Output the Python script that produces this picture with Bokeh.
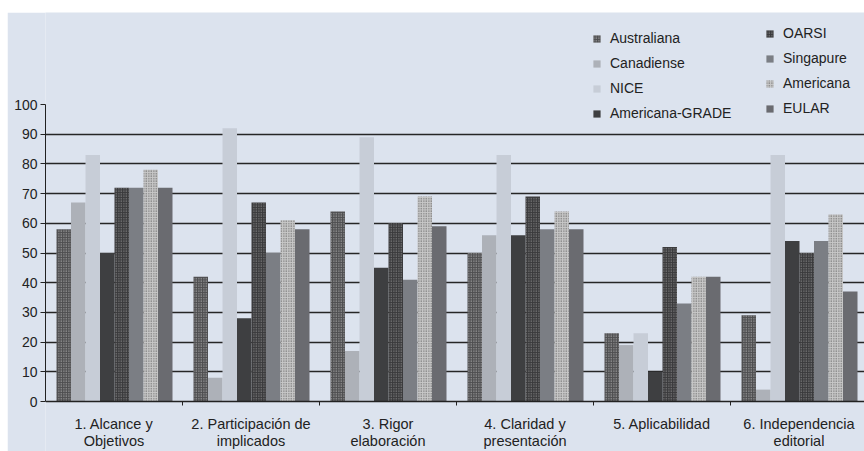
from bokeh.plotting import figure
from bokeh.models import Range1d, FixedTicker, Legend, LegendItem, Label, Spacer
from bokeh.layouts import column, row
from bokeh.embed import file_html
from bokeh.resources import INLINE

categories = ["1. Alcance y|Objetivos", "2. Participación de|implicados", "3. Rigor|elaboración",
              "4. Claridad y|presentación", "5. Aplicabilidad", "6. Independencia|editorial"]
series = ["Australiana", "Canadiense", "NICE", "Americana-GRADE", "OARSI", "Singapure", "Americana", "EULAR"]
australiana = [58, 42, 64, 50, 23, 29]
canadiense = [67, 8, 17, 56, 19, 4]
nice = [83, 92, 89, 83, 23, 83]
americana_grade = [50, 28, 45, 56, 10, 54]
oarsi = [72, 67, 60, 69, 52, 50]
singapure = [72, 50, 41, 58, 33, 54]
americana = [78, 61, 69, 64, 42, 63]
eular = [72, 58, 59, 58, 42, 37]
y_ticks = [0, 10, 20, 30, 40, 50, 60, 70, 80, 90, 100]

values = [australiana, canadiense, nice, americana_grade, oarsi, singapure, americana, eular]
styles = [
    dict(fill_color="#4e4e50", hatch_pattern="dot", hatch_color="#c0c0c0", hatch_scale=2.5, hatch_weight=1),
    dict(fill_color="#adb1b8"),
    dict(fill_color="#c7cdd7"),
    dict(fill_color="#3e3f41"),
    dict(fill_color="#3a3a3c", hatch_pattern="dot", hatch_color="#9a9a9a", hatch_scale=2.5, hatch_weight=1),
    dict(fill_color="#7b7e84"),
    dict(fill_color="#c8c8c8", hatch_pattern="dot", hatch_color="#555555", hatch_scale=2.5, hatch_weight=1),
    dict(fill_color="#6a6b70"),
]

BG = "#dce3ee"
FONT = "Liberation Sans"
PPU = 2.97  # pixels per value unit

p = figure(width=857, height=439, output_backend="svg", toolbar_location=None,
           x_range=Range1d(0, 819 / 137), y_range=Range1d(-50 / PPU, 100 + 92 / PPU),
           background_fill_color=BG, border_fill_color=BG,
           min_border_left=38, min_border_right=0, min_border_top=0, min_border_bottom=0)
p.outline_line_color = None

p.xgrid.visible = False
p.ygrid.ticker = FixedTicker(ticks=y_ticks[1:-1])
p.ygrid.grid_line_color = "#262626"
p.ygrid.grid_line_width = 1.5

p.yaxis.ticker = FixedTicker(ticks=y_ticks)
p.yaxis.bounds = (0, 100)
p.yaxis.major_label_text_font = FONT
p.yaxis.major_label_text_font_size = "14px"
p.yaxis.major_label_text_color = "#222222"
p.yaxis.axis_line_color = "#222222"
p.yaxis.major_tick_line_color = "#222222"
p.yaxis.major_tick_in = 0
p.yaxis.major_tick_out = 5
p.yaxis.minor_tick_line_color = None
p.yaxis.major_label_standoff = 3

p.xaxis.fixed_location = 0
p.xaxis.ticker = FixedTicker(ticks=[1, 2, 3, 4, 5])
p.xaxis.major_label_text_alpha = 0
p.xaxis.major_label_text_font_size = "1px"
p.xaxis.major_label_standoff = 0
p.xaxis.axis_line_color = "#222222"
p.xaxis.axis_line_width = 1.3
p.xaxis.major_tick_line_color = "#222222"
p.xaxis.major_tick_in = 0
p.xaxis.major_tick_out = 4
p.xaxis.minor_tick_line_color = None

bw = 14.5 / 137
start = 11 / 137
renderers = []
for k, (name, vals, st) in enumerate(zip(series, values, styles)):
    xs = [i + start + k * bw + bw / 2 for i in range(len(vals))]
    r = p.vbar(x=xs, top=vals, width=bw, bottom=0, line_color=None, **st)
    renderers.append(r)

for i, cat in enumerate(categories):
    lines = cat.split("|")
    for j, ln in enumerate(lines):
        p.add_layout(Label(x=i + 0.5, y=-(22 + j * 17) / PPU, text=ln, text_align="center",
                           text_baseline="middle", text_font=FONT, text_font_size="14.5px",
                           text_color="#222222"))

def make_legend(idx, loc):
    lg = Legend(items=[LegendItem(label=series[k], renderers=[renderers[k]]) for k in idx],
                location=loc, background_fill_alpha=0, border_line_color=None,
                label_text_font=FONT, label_text_font_size="14px", label_text_color="#222222",
                glyph_width=9, glyph_height=9, label_height=20, spacing=5, padding=0, margin=0,
                label_standoff=9)
    p.add_layout(lg)

make_legend([0, 1, 2, 3], (547, 328))
make_legend([4, 5, 6, 7], (720, 333))

layout = column(Spacer(height=12), row(Spacer(width=7), p))
open("out.html", "w").write(file_html(layout, INLINE))
